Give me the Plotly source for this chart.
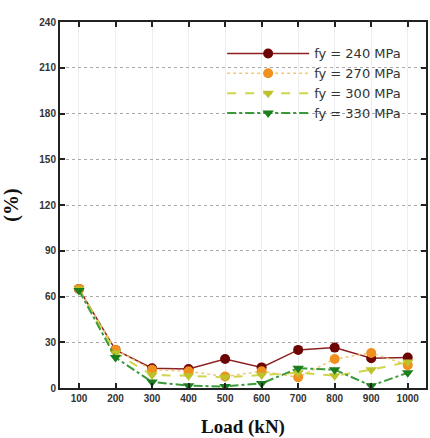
import plotly.graph_objects as go

loads = [100, 200, 300, 400, 500, 600, 700, 800, 900, 1000]
fy240 = [65, 25, 13, 12.5, 19, 13.5, 25, 26.5, 19.5, 20]
fy270 = [65, 25, 12, 11, 7.5, 11, 7, 19, 23, 15]
fy300 = [65, 23, 8.5, 8, 7, 8.5, 10, 8, 12, 17]
fy330 = [64, 20, 4, 1.5, 1, 3, 13, 12, 1.5, 10]
names = ["fy = 240 MPa", "fy = 270 MPa", "fy = 300 MPa", "fy = 330 MPa"]
yticks = [0, 30, 60, 90, 120, 150, 180, 210, 240]
x_title = "Load (kN)"

fig = go.Figure()
fig.add_trace(go.Scatter(x=loads, y=fy240, name=names[0], mode="lines+markers",
                         line=dict(color="#8e2020", width=1.5, dash="solid"),
                         marker=dict(symbol="circle", size=10, color="#6e0505")))
fig.add_trace(go.Scatter(x=loads, y=fy270, name=names[1], mode="lines+markers",
                         line=dict(color="#f2c878", width=1.5, dash="dot"),
                         marker=dict(symbol="circle", size=10, color="#f0901e")))
fig.add_trace(go.Scatter(x=loads, y=fy300, name=names[2], mode="lines+markers",
                         line=dict(color="#cfd64a", width=2, dash="dash"),
                         marker=dict(symbol="triangle-down", size=10, color="#bdc22a")))
fig.add_trace(go.Scatter(x=loads, y=fy330, name=names[3], mode="lines+markers",
                         line=dict(color="#3a9a3a", width=2, dash="dashdot"),
                         marker=dict(symbol="triangle-down", size=10, color="#1b7d1b")))

axis_common = dict(showline=True, linecolor="#222", linewidth=2, mirror="ticks",
                   ticks="inside", ticklen=5, tickwidth=1.5, tickcolor="#222",
                   zeroline=False, automargin=False,
                   tickfont=dict(family="Liberation Sans", size=10, color="#333",
                                 weight="bold"))

fig.update_xaxes(range=[48, 1050], tickvals=loads, showgrid=True,
                 gridcolor="#eeeeee", gridwidth=1,
                 **axis_common)
fig.update_yaxes(range=[0, 240], tickvals=yticks, showgrid=True,
                 gridcolor="#aaaaaa", griddash="dot", gridwidth=1,
                 title=dict(text="<b>(%)</b>", standoff=20,
                            font=dict(family="Liberation Serif", size=20, color="#111")),
                 **axis_common)

fig.add_annotation(text="<b>" + x_title + "</b>", xref="paper", yref="paper",
                   x=0.5, y=0, xanchor="center", yanchor="middle", yshift=-39,
                   showarrow=False,
                   font=dict(family="Liberation Serif", size=19, color="#111"))

fig.update_layout(
    width=430, height=438,
    margin=dict(l=60, r=4, t=22, b=50),
    paper_bgcolor="white", plot_bgcolor="white",
    showlegend=True,
    legend=dict(x=0.443, y=0.955, xanchor="left", yanchor="top",
                bgcolor="rgba(0,0,0,0)", tracegroupgap=0, itemwidth=82,
                font=dict(family="DejaVu Sans", size=13, color="#333")),
)

fig.write_html("out.html")
